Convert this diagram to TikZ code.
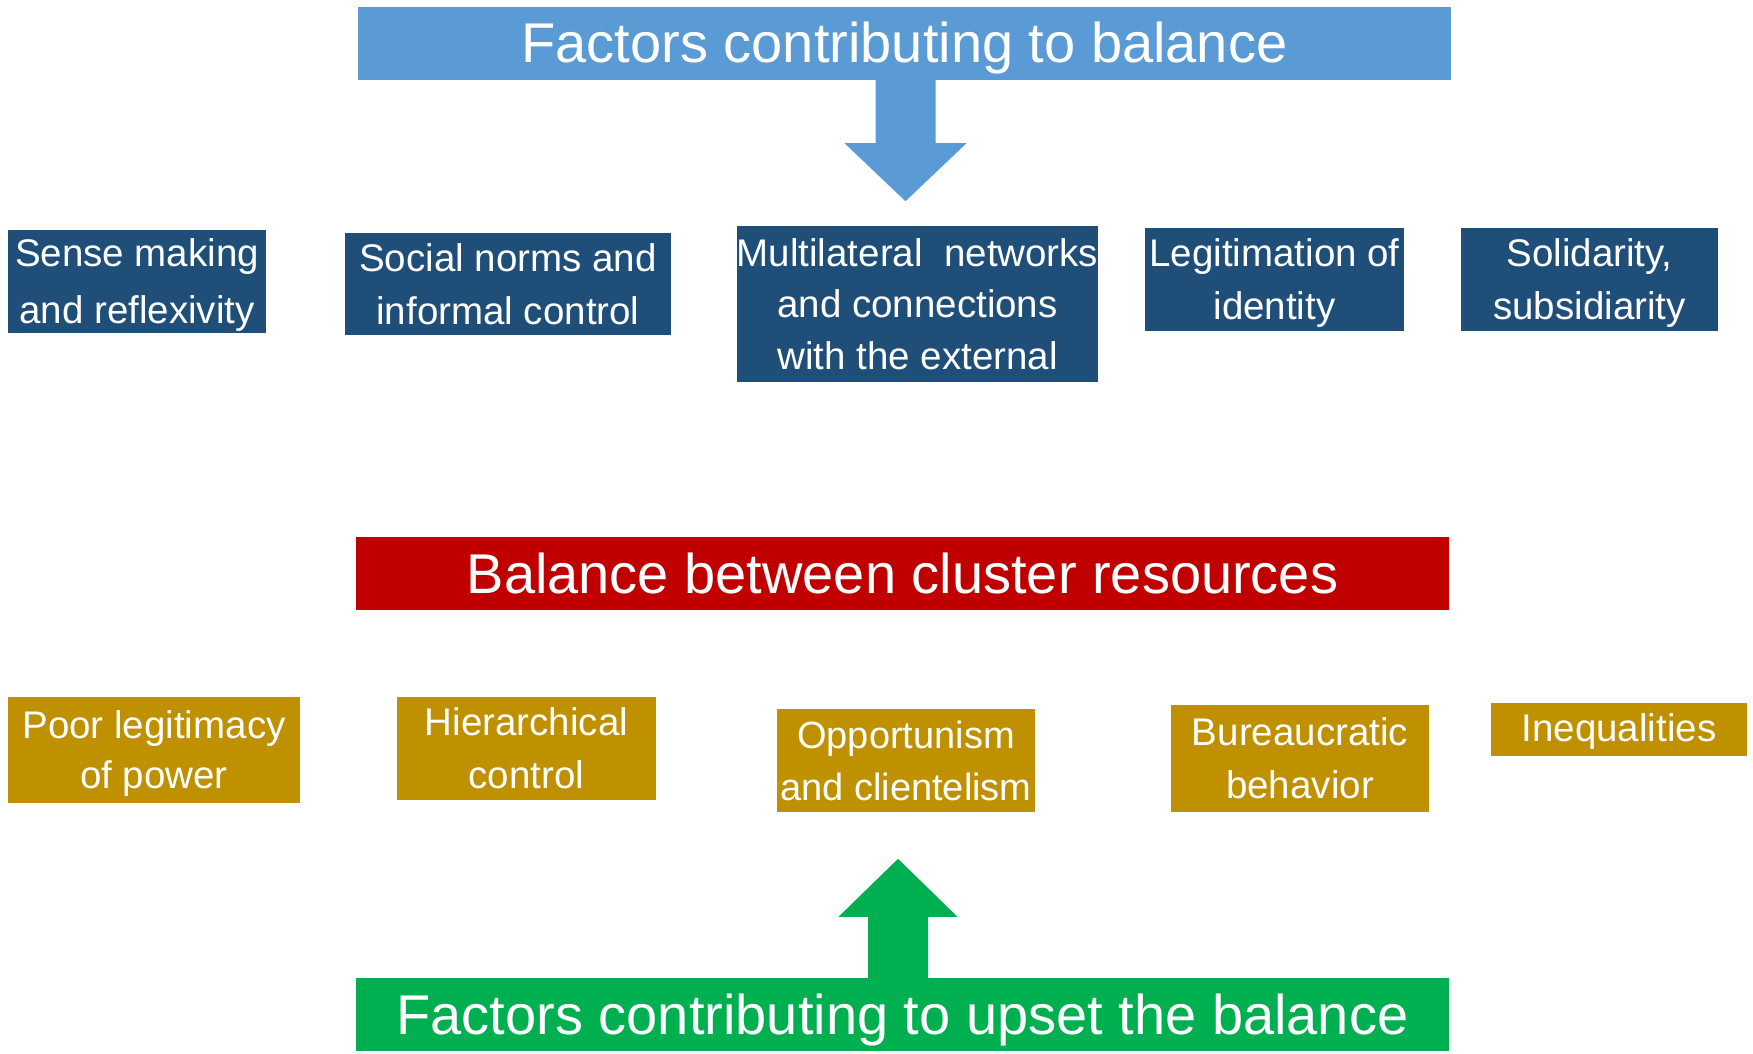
\documentclass[tikz,border=0pt]{standalone}
\usepackage{fontspec}
\setmainfont{Liberation Sans}
\usetikzlibrary{calc}
\definecolor{lblue}{HTML}{5B9BD5}
\definecolor{dblue}{HTML}{1F4E79}
\definecolor{bred}{HTML}{C00000}
\definecolor{gold}{HTML}{BF9000}
\definecolor{bgreen}{HTML}{00B050}
\begin{document}
\begin{tikzpicture}[x=1pt,y=-1pt,
  titlebox/.style={fill=#1, text=white, inner sep=0pt, minimum width=1093pt, minimum height=73pt,
    text height=44pt, text depth=5pt, font=\fontsize{56}{60}\selectfont},
  smallbox/.style={fill=#1, text=white, inner sep=0pt, align=center, text depth=0pt,
    font=\fontsize{38.5}{53}\selectfont}
]
\useasboundingbox (0,0) rectangle (1753,1054);
\fill[white] (0,0) rectangle (1753,1054);

% titles
\node[titlebox=lblue] (top) at (904.5,43.5) {Factors contributing to balance};
\node[titlebox=bred] (mid) at (902.5,573.5) {Balance between cluster resources};
\node[titlebox=bgreen] (bot) at (902.5,1014.5) {Factors contributing to upset the balance};

% upper boxes
\node[smallbox=dblue, minimum width=258pt, minimum height=103pt, font=\fontsize{38.5}{57}\selectfont] (d1) at (137,281.5) {Sense making\\and reflexivity};
\node[smallbox=dblue, minimum width=326pt, minimum height=102pt] (d2) at (508,284) {Social norms and\\informal control};
\node[smallbox=dblue, minimum width=361pt, minimum height=156pt, font=\fontsize{38.5}{51.5}\selectfont] (d3) at (917.5,304) {Multilateral\ \ networks\\and connections\\with the external};
\node[smallbox=dblue, minimum width=259pt, minimum height=103pt] (d4) at (1274.5,279.5) {Legitimation of\\identity};
\node[smallbox=dblue, minimum width=257pt, minimum height=103pt] (d5) at (1589.5,279.5) {Solidarity,\\subsidiarity};

% lower boxes
\node[smallbox=gold, minimum width=292pt, minimum height=106pt, font=\fontsize{38.5}{50}\selectfont] (g1) at (154,750) {Poor legitimacy\\of power};
\node[smallbox=gold, minimum width=259pt, minimum height=103pt] (g2) at (526.5,748.5) {Hierarchical\\control};
\node[smallbox=gold, minimum width=258pt, minimum height=103pt, font=\fontsize{38}{52}\selectfont] (g3) at (906,760.5) {Opportunism\\and clientelism};
\node[smallbox=gold, minimum width=258pt, minimum height=107pt] (g4) at (1300,758.5) {Bureaucratic\\behavior};
\node[smallbox=gold, minimum width=256pt, minimum height=53pt, text depth=4pt] (g5) at (1619,729.5) {Inequalities};

% blue block arrow (down)
\coordinate (ta) at ($(top.south)+(1,0)$);
\fill[lblue] ($(ta)+(-30,0)$) -- ($(ta)+(30,0)$) -- ($(ta)+(30,63)$) -- ($(ta)+(61,63)$)
  -- ($(ta)+(0,121)$) -- ($(ta)+(-61,63)$) -- ($(ta)+(-30,63)$) -- cycle;

% green block arrow (up)
\coordinate (ba) at ($(bot.north)+(-4.5,0)$);
\fill[bgreen] ($(ba)+(-30,0)$) -- ($(ba)+(30,0)$) -- ($(ba)+(30,-61)$) -- ($(ba)+(59.5,-61)$)
  -- ($(ba)+(0,-119)$) -- ($(ba)+(-59.5,-61)$) -- ($(ba)+(-30,-61)$) -- cycle;
\end{tikzpicture}
\end{document}
